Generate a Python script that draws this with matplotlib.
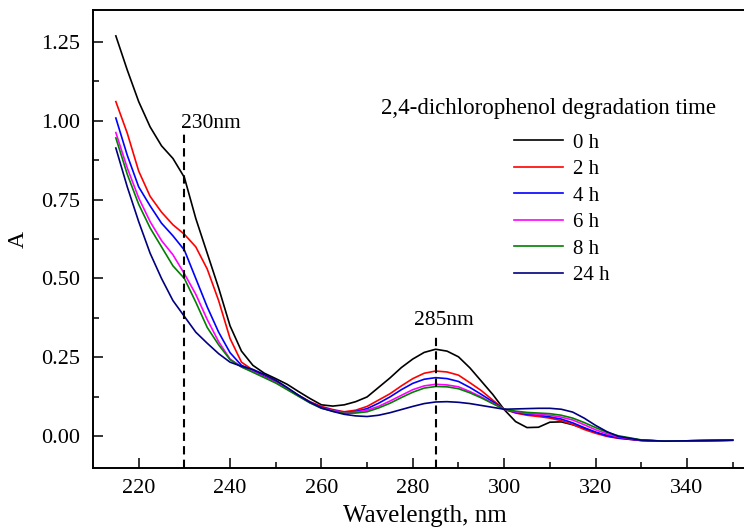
import numpy as np
import matplotlib
matplotlib.use('Agg')
import matplotlib.pyplot as plt

plt.rcParams['font.family'] = ['Liberation Serif', 'DejaVu Serif']

# wavelength grid, nm (2.5 nm steps up to 325, then 5 nm)
wavelength = list(np.arange(215, 325.1, 2.5)) + [330, 335, 340, 345, 350]

# absorbance, one list per degradation time
a_0h = [1.268, 1.16, 1.06, 0.98, 0.92, 0.88, 0.82, 0.69, 0.58, 0.47, 0.35, 0.27,
        0.225, 0.20, 0.183, 0.165, 0.142, 0.12, 0.10, 0.096, 0.10, 0.11, 0.125, 0.155,
        0.185, 0.218, 0.245, 0.266, 0.276, 0.27, 0.252, 0.217, 0.175, 0.133, 0.085, 0.047,
        0.028, 0.029, 0.045, 0.046, 0.037, 0.025, 0.012, 0.003, -0.004,
        -0.012, -0.015, -0.014, -0.013, -0.012]
a_2h = [1.06, 0.96, 0.84, 0.76, 0.71, 0.67, 0.64, 0.60, 0.53, 0.43, 0.31, 0.235,
        0.21, 0.19, 0.173, 0.152, 0.13, 0.11, 0.095, 0.085, 0.078, 0.083, 0.095, 0.115,
        0.135, 0.16, 0.183, 0.20, 0.207, 0.204, 0.194, 0.17, 0.145, 0.115, 0.086, 0.074,
        0.067, 0.063, 0.058, 0.05, 0.038, 0.022, 0.01, 0.0, -0.006,
        -0.013, -0.015, -0.014, -0.013, -0.012]
a_4h = [1.008, 0.89, 0.79, 0.73, 0.675, 0.635, 0.59, 0.50, 0.41, 0.33, 0.265, 0.225,
        0.21, 0.19, 0.173, 0.152, 0.13, 0.108, 0.092, 0.083, 0.076, 0.079, 0.088, 0.105,
        0.125, 0.148, 0.168, 0.181, 0.186, 0.183, 0.174, 0.155, 0.133, 0.11, 0.086, 0.076,
        0.070, 0.067, 0.062, 0.055, 0.043, 0.028, 0.014, 0.002, -0.005,
        -0.013, -0.015, -0.014, -0.013, -0.012]
a_6h = [0.962, 0.85, 0.755, 0.68, 0.62, 0.575, 0.515, 0.45, 0.37, 0.30, 0.245, 0.22,
        0.205, 0.188, 0.171, 0.15, 0.128, 0.107, 0.09, 0.082, 0.075, 0.077, 0.083, 0.095,
        0.112, 0.13, 0.148, 0.16, 0.165, 0.163, 0.157, 0.142, 0.125, 0.105, 0.086, 0.078,
        0.073, 0.070, 0.067, 0.061, 0.052, 0.037, 0.021, 0.008, -0.002,
        -0.012, -0.015, -0.014, -0.013, -0.012]
a_8h = [0.945, 0.83, 0.735, 0.66, 0.60, 0.54, 0.50, 0.425, 0.345, 0.29, 0.243, 0.22,
        0.203, 0.186, 0.169, 0.148, 0.127, 0.106, 0.089, 0.08, 0.073, 0.074, 0.078, 0.09,
        0.105, 0.123, 0.14, 0.153, 0.158, 0.157, 0.151, 0.138, 0.122, 0.104, 0.086, 0.080,
        0.076, 0.074, 0.072, 0.067, 0.058, 0.044, 0.028, 0.013, 0.002,
        -0.011, -0.015, -0.014, -0.013, -0.012]
a_24h = [0.913, 0.79, 0.68, 0.58, 0.50, 0.43, 0.38, 0.33, 0.295, 0.262, 0.235, 0.222,
         0.212, 0.196, 0.178, 0.155, 0.13, 0.108, 0.09, 0.079, 0.07, 0.065, 0.063, 0.067,
         0.075, 0.085, 0.095, 0.104, 0.109, 0.11, 0.108, 0.104, 0.098, 0.092, 0.086, 0.087,
         0.088, 0.089, 0.089, 0.086, 0.077, 0.058, 0.035, 0.015, 0.0,
         -0.012, -0.015, -0.014, -0.013, -0.012]

series = [a_0h, a_2h, a_4h, a_6h, a_8h, a_24h]
labels = ['0 h', '2 h', '4 h', '6 h', '8 h', '24 h']
colors = ['#000000', '#ff0000', '#0000ff', '#ff00ff', '#008000', '#000080']

# marked bands: wavelength, top of dashed line, label position
peaks = [(230, 0.965, 235.7, 0.99, '230nm'), (285, 0.318, 286.9, 0.366, '285nm')]

fig = plt.figure(figsize=(7.44, 5.29), dpi=100)
ax = fig.add_axes([93 / 744, 61 / 529, 1 - 93 / 744, 458 / 529])

handles = []
for y, lab, c in zip(series, labels, colors):
    h, = ax.plot(wavelength, y, color=c, lw=1.2, label=lab)
    handles.append(h)

for wl, top, lx, ly, txt in peaks:
    ax.plot([wl, wl], [-0.1, top], color='black', lw=1.5, ls=(0, (4, 2.5)))
    ax.text(lx, ly, txt, ha='center', va='center', fontsize=15.5)

ax.set_xlim(210, 352.5)
ax.set_ylim(-0.1, 1.35)
ax.set_xticks(np.arange(220, 351, 20))
ax.set_xticks(np.arange(220, 351, 10), minor=True)
ax.set_yticks(np.arange(0, 1.26, 0.25))
ax.set_yticks(np.arange(0, 1.3, 0.125), minor=True)
ax.yaxis.set_major_formatter(plt.FormatStrFormatter('%.2f'))

ax.spines['right'].set_visible(False)
for s in ['left', 'bottom', 'top']:
    ax.spines[s].set_linewidth(1.4)
ax.tick_params(which='both', direction='in', width=1.1, labelsize=16,
               top=False, right=False)
ax.tick_params(which='major', length=7)
ax.tick_params(which='minor', length=4)
ax.tick_params(axis='y', pad=9)
ax.tick_params(axis='x', pad=8)

ax.set_xlabel('Wavelength, nm', fontsize=18)
ax.set_ylabel('A', fontsize=17, labelpad=9)
ax.xaxis.set_label_coords(0.51, -0.08)

ax.text(0.699, 0.784, '2,4-dichlorophenol degradation time', ha='center', va='center',
        fontsize=16.5, transform=ax.transAxes)
leg = ax.legend(handles=handles, loc='upper left', bbox_to_anchor=(0.647, 0.731),
                frameon=False, fontsize=15, handlelength=2.35, handletextpad=0.48,
                labelspacing=0.33, borderaxespad=0, borderpad=0)

fig.savefig('out.png', dpi=100)
